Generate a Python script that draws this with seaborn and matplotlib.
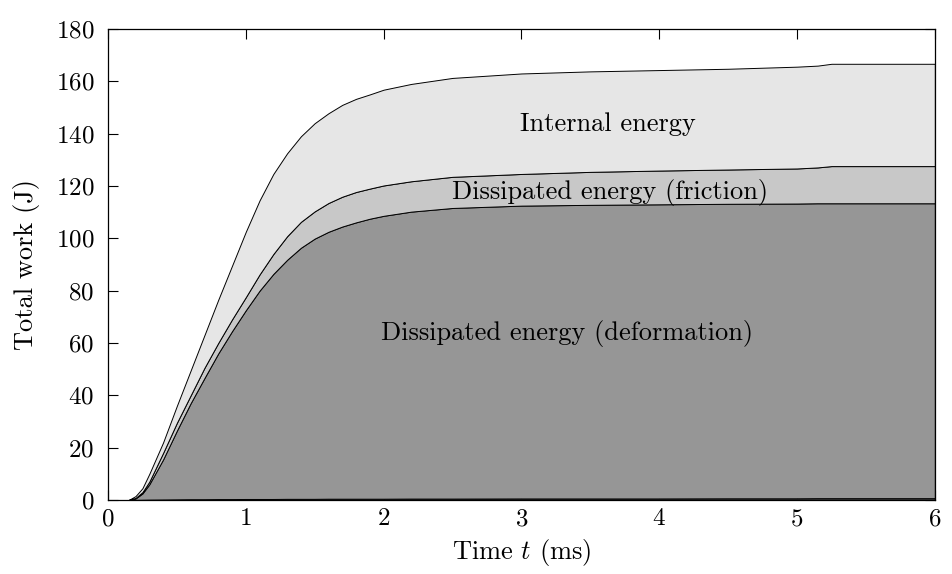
"""Stacked energy balance of the impact simulation, drawn with seaborn styling."""
import matplotlib
matplotlib.use("Agg")
import matplotlib.pyplot as plt
import numpy as np
import seaborn as sns

# time grid (ms) and cumulative boundaries (J)
time_ms = [0.0, 0.15, 0.2, 0.25, 0.3, 0.4, 0.5, 0.6, 0.7, 0.8, 0.9, 1.0, 1.1, 1.2,
           1.3, 1.4, 1.5, 1.6, 1.7, 1.8, 1.9, 2.0, 2.2, 2.5, 3.0, 3.5, 4.0, 4.5,
           5.0, 5.15, 5.25, 6.0]
kinetic_top = [0.0, 0.0, 0.05, 0.1, 0.15, 0.2, 0.25, 0.3, 0.3, 0.35, 0.35, 0.4, 0.4, 0.4,
               0.45, 0.45, 0.45, 0.5, 0.5, 0.5, 0.5, 0.5, 0.55, 0.55, 0.6, 0.6, 0.6, 0.65,
               0.65, 0.7, 0.7, 0.7]
deformation_top = [0.0, 0.0, 0.6, 2.5, 6.0, 15.5, 26.5, 37.0, 46.6, 56.0, 64.5, 72.5, 80.0, 86.4,
                   91.8, 96.4, 99.9, 102.5, 104.5, 106.1, 107.5, 108.6, 110.2, 111.6, 112.5, 112.8, 113.0, 113.2,
                   113.3, 113.4, 113.4, 113.4]
friction_top = [0.0, 0.0, 0.8, 3.0, 7.0, 18.0, 29.5, 40.0, 50.5, 60.0, 69.0, 77.5, 86.2, 94.0,
                100.8, 106.3, 110.3, 113.5, 115.9, 117.7, 119.0, 120.2, 121.8, 123.5, 124.6, 125.4, 125.9, 126.3,
                126.7, 127.1, 127.6, 127.6]
total_top = [0.0, 0.0, 1.5, 4.5, 10.0, 22.0, 36.0, 49.5, 63.0, 76.5, 89.5, 102.5, 114.5, 124.6,
             132.5, 139.0, 144.0, 147.8, 151.0, 153.3, 155.0, 156.8, 159.0, 161.3, 163.0, 163.8, 164.3, 164.8,
             165.6, 166.0, 166.7, 166.7]

layer_names = ["Kinetic energy", "Dissipated energy (deformation)",
               "Dissipated energy (friction)", "Internal energy"]
layer_colors = ["#444444", "#969696", "#c8c8c8", "#e6e6e6"]

sns.set_style("ticks")
plt.rcParams["font.family"] = ["cmr10", "DejaVu Serif"]
plt.rcParams["mathtext.fontset"] = "cm"
plt.rcParams["axes.formatter.use_mathtext"] = True
plt.rcParams["axes.unicode_minus"] = False
plt.rcParams["text.color"] = "black"
plt.rcParams["axes.labelcolor"] = "black"

t = np.array(time_ms)
bounds = np.vstack([np.zeros_like(t), kinetic_top, deformation_top, friction_top, total_top])
layers = np.diff(bounds, axis=0)

fig = plt.figure(figsize=(9.52, 5.74), dpi=100)
ax = fig.add_axes([0.1134, 0.1289, 0.8686, 0.8206])
ax.stackplot(t, layers, colors=layer_colors, edgecolor="black", linewidth=0.7,
             labels=layer_names, zorder=1)
ax.set_axisbelow(True)

ax.set_xlim(0, 6)
ax.set_ylim(0, 180)
ax.set_xticks(range(0, 7))
ax.set_yticks(range(0, 181, 20))
ax.tick_params(direction="in", length=7, width=0.8, colors="black",
               top=True, right=True, labelsize=18)
ax.tick_params(axis="y", pad=10)
ax.tick_params(axis="x", pad=6)
for side in ax.spines.values():
    side.set_visible(True)
    side.set_linewidth(0.9)
    side.set_color("black")

ax.set_xlabel("Time $t$ (ms)", fontsize=19, labelpad=5)
ax.set_ylabel("Total work (J)", fontsize=19, labelpad=11)

ax.text(3.63, 143.7, "Internal energy", ha="center", va="center", fontsize=19)
ax.text(3.64, 117.7, "Dissipated energy (friction)", ha="center", va="center", fontsize=19)
ax.text(3.33, 63.8, "Dissipated energy (deformation)", ha="center", va="center", fontsize=19)

fig.savefig("out.png", dpi=100)
